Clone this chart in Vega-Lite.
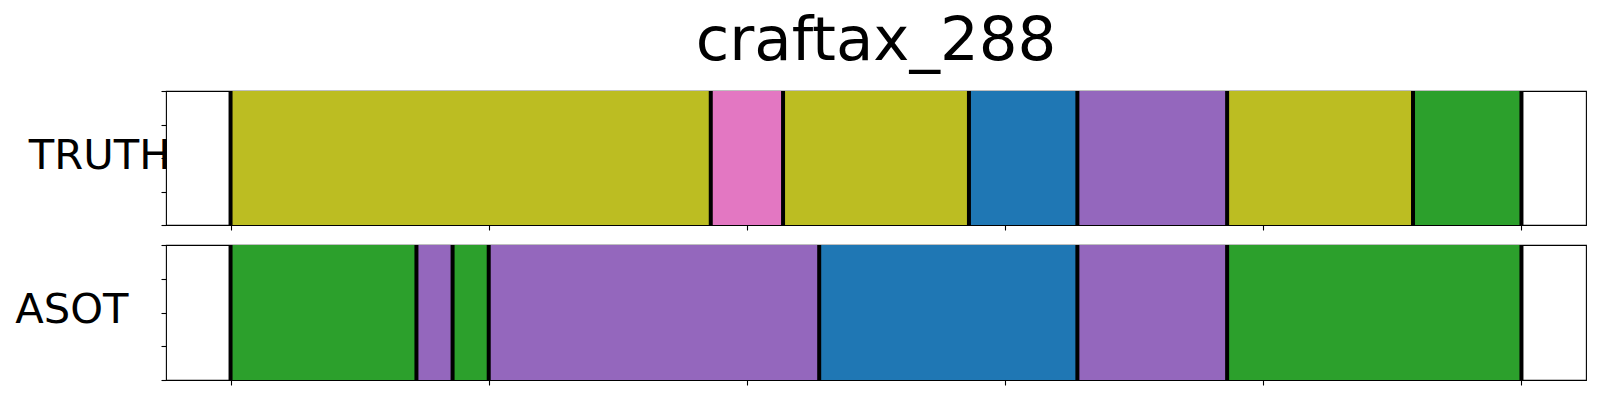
{
  "$schema": "https://vega.github.io/schema/vega-lite/v6.json",
  "padding": {"left": 14, "top": 10, "right": 0, "bottom": 0},
  "background": "white",
  "config": {
    "view": {"stroke": "black", "strokeWidth": 1.1},
    "font": "DejaVu Sans",
    "axis": {"grid": false, "labels": false, "domain": false, "tickColor": "black", "tickSize": 5, "tickWidth": 1.1}
  },
  "datasets": {
    "truth": [
      {"start": 0, "end": 93, "label": "olive"},
      {"start": 93, "end": 107, "label": "pink"},
      {"start": 107, "end": 143, "label": "olive"},
      {"start": 143, "end": 164, "label": "blue"},
      {"start": 164, "end": 193, "label": "purple"},
      {"start": 193, "end": 229, "label": "olive"},
      {"start": 229, "end": 250, "label": "green"}
    ],
    "asot": [
      {"start": 0, "end": 36, "label": "green"},
      {"start": 36, "end": 43, "label": "purple"},
      {"start": 43, "end": 50, "label": "green"},
      {"start": 50, "end": 114, "label": "purple"},
      {"start": 114, "end": 164, "label": "blue"},
      {"start": 164, "end": 193, "label": "purple"},
      {"start": 193, "end": 250, "label": "green"}
    ],
    "truthB": [{"b": 0}, {"b": 93}, {"b": 107}, {"b": 143}, {"b": 164}, {"b": 193}, {"b": 229}, {"b": 250}],
    "asotB": [{"b": 0}, {"b": 36}, {"b": 43}, {"b": 50}, {"b": 114}, {"b": 164}, {"b": 193}, {"b": 250}]
  },
  "spacing": 10,
  "vconcat": [
    {
      "width": 1420,
      "height": 134,
      "title": {"text": "craftax_288", "fontSize": 61, "font": "DejaVu Sans", "fontWeight": "normal", "color": "black", "anchor": "middle", "baseline": "alphabetic", "offset": -31.7},
      "layer": [
        {
          "data": {"name": "truth"},
          "mark": {"type": "rect"},
          "encoding": {
            "x": {"field": "start", "type": "quantitative", "scale": {"domain": [-12.5, 262.5], "nice": false, "zero": false}, "axis": {"values": [0, 50, 100, 150, 200, 250], "title": null}},
            "x2": {"field": "end"},
            "y": {"datum": 0, "type": "quantitative", "scale": {"domain": [0, 1], "nice": false}, "axis": {"values": [0, 0.25, 0.5, 0.75, 1], "title": "TRUTH", "titleAngle": 0, "titleFontSize": 41.67, "titleFont": "DejaVu Sans", "titleFontWeight": "normal", "titleColor": "black", "titleAlign": "right", "titleBaseline": "alphabetic", "titleX": 4, "titleY": 77.3}},
            "y2": {"datum": 1},
            "color": {"field": "label", "type": "nominal", "scale": {"domain": ["olive", "pink", "blue", "purple", "green"], "range": ["#bcbd22", "#e377c2", "#1f77b4", "#9467bd", "#2ca02c"]}, "legend": null}
          }
        },
        {
          "data": {"name": "truthB"},
          "mark": {"type": "rule", "color": "black", "strokeWidth": 4},
          "encoding": {"x": {"field": "b", "type": "quantitative"}}
        }
      ]
    },
    {
      "width": 1420,
      "height": 135,
      "layer": [
        {
          "data": {"name": "asot"},
          "mark": {"type": "rect"},
          "encoding": {
            "x": {"field": "start", "type": "quantitative", "scale": {"domain": [-12.5, 262.5], "nice": false, "zero": false}, "axis": {"values": [0, 50, 100, 150, 200, 250], "title": null}},
            "x2": {"field": "end"},
            "y": {"datum": 0, "type": "quantitative", "scale": {"domain": [0, 1], "nice": false}, "axis": {"values": [0, 0.25, 0.5, 0.75, 1], "title": "ASOT", "titleAngle": 0, "titleFontSize": 41.67, "titleFont": "DejaVu Sans", "titleFontWeight": "normal", "titleColor": "black", "titleAlign": "right", "titleBaseline": "alphabetic", "titleX": -38, "titleY": 77.7}},
            "y2": {"datum": 1},
            "color": {"field": "label", "type": "nominal", "scale": {"domain": ["olive", "pink", "blue", "purple", "green"], "range": ["#bcbd22", "#e377c2", "#1f77b4", "#9467bd", "#2ca02c"]}, "legend": null}
          }
        },
        {
          "data": {"name": "asotB"},
          "mark": {"type": "rule", "color": "black", "strokeWidth": 4},
          "encoding": {"x": {"field": "b", "type": "quantitative"}}
        }
      ]
    }
  ]
}
